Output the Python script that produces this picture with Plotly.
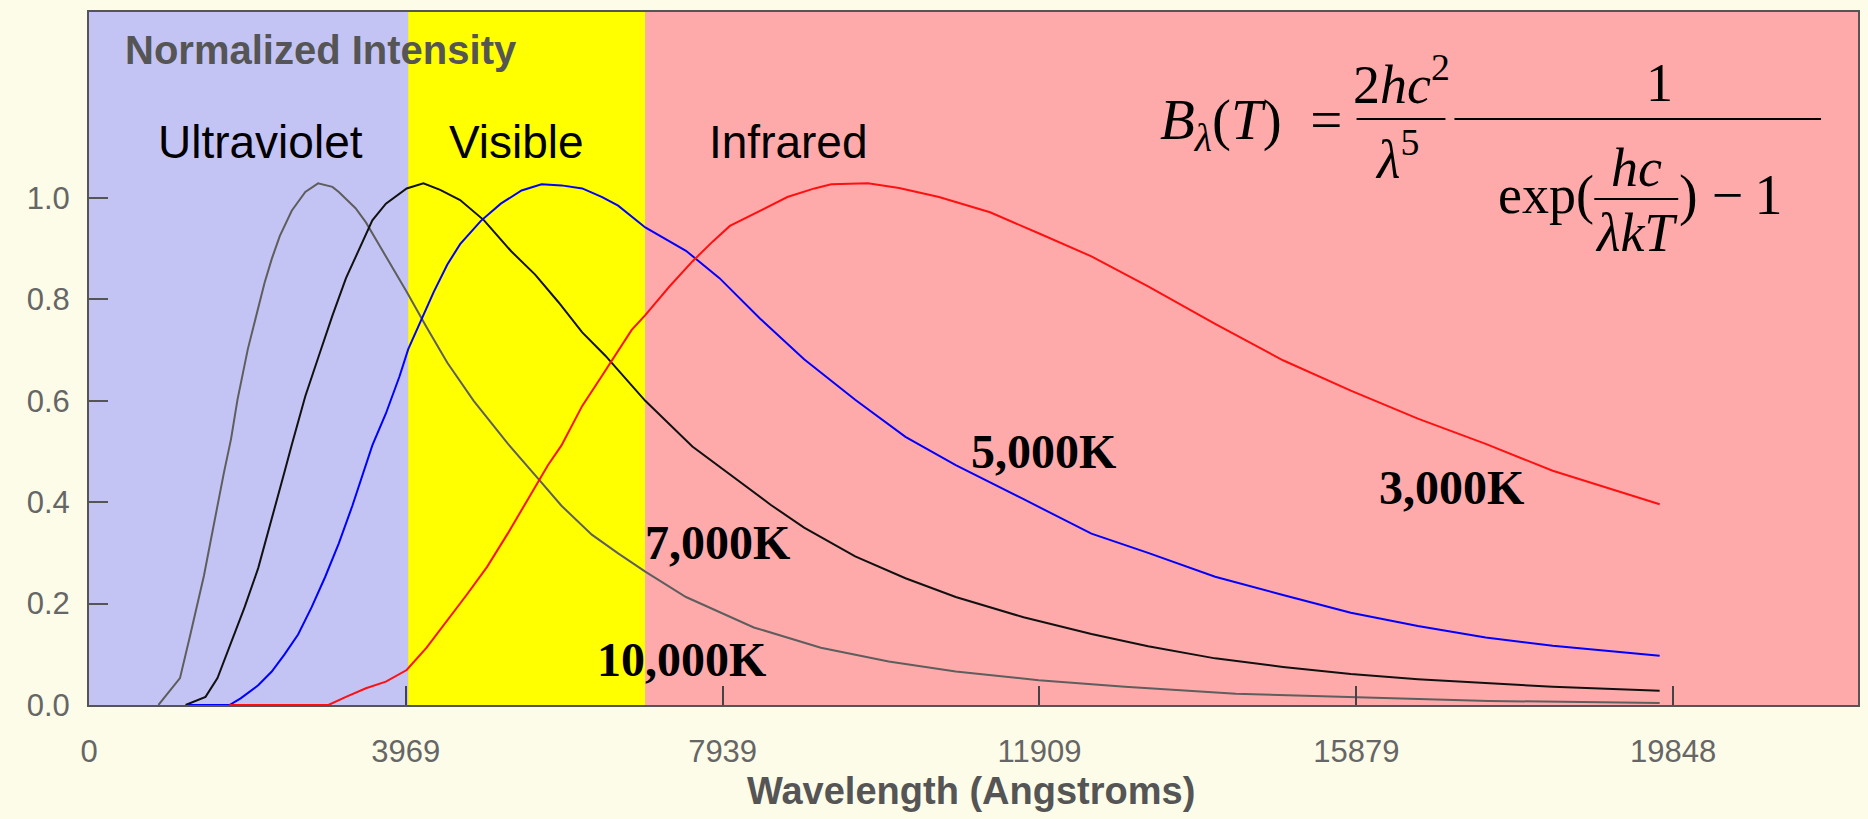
import plotly.graph_objects as go

# ---------------- data ----------------
wl_10000 = [870, 1140, 1270, 1350, 1440, 1520, 1610, 1690, 1780, 1860, 1990, 2120, 2200, 2290, 2390,
            2540, 2710, 2870, 3050, 3130, 3340, 3470, 3720, 3980, 4230, 4490, 4820, 5250, 5630, 5920,
            6300, 6630, 6970, 7480, 8330, 9170, 10020, 10860, 11900, 12980, 14370, 15810, 17540, 19680]
int_10000 = [0.0, 0.053, 0.139, 0.193, 0.255, 0.320, 0.395, 0.458, 0.525, 0.602, 0.702, 0.785, 0.833, 0.880, 0.925,
             0.975, 1.012, 1.029, 1.022, 1.012, 0.980, 0.952, 0.885, 0.815, 0.745, 0.675, 0.600, 0.515, 0.446, 0.393,
             0.336, 0.299, 0.263, 0.213, 0.153, 0.113, 0.086, 0.066, 0.049, 0.036, 0.022, 0.016, 0.008, 0.004]

wl_7000 = [1210, 1460, 1610, 1690, 1820, 1950, 2120, 2290, 2450, 2540, 2710, 2880, 3050, 3220, 3390, 3550,
           3720, 3980, 4190, 4400, 4650, 4950, 5290, 5590, 5880, 6180, 6470, 6630, 6970, 7560, 7900, 8540,
           8960, 9600, 10230, 10860, 11710, 12560, 13270, 14110, 14960, 15810, 16650, 17500, 18340, 19680]
int_7000 = [0.0, 0.016, 0.053, 0.086, 0.139, 0.193, 0.270, 0.366, 0.460, 0.513, 0.609, 0.689, 0.768, 0.842, 0.902, 0.956,
            0.989, 1.019, 1.029, 1.016, 0.996, 0.956, 0.895, 0.849, 0.795, 0.735, 0.689, 0.660, 0.600, 0.510, 0.470, 0.395,
            0.350, 0.293, 0.250, 0.213, 0.173, 0.140, 0.116, 0.092, 0.075, 0.061, 0.051, 0.043, 0.036, 0.028]

wl_5000 = [1250, 1760, 1900, 2120, 2290, 2450, 2620, 2790, 2960, 3130, 3300, 3470, 3550, 3720, 3890, 4000,
           4150, 4320, 4490, 4650, 4910, 5160, 5420, 5670, 5920, 6180, 6430, 6630, 6970, 7480, 7900, 8410,
           8960, 9600, 10230, 10860, 11710, 12560, 13270, 14110, 14960, 15810, 16650, 17500, 18340, 19190, 19680]
int_5000 = [0.0, 0.0, 0.013, 0.039, 0.066, 0.100, 0.139, 0.193, 0.253, 0.319, 0.393, 0.473, 0.512, 0.575, 0.648, 0.702,
            0.755, 0.815, 0.869, 0.909, 0.955, 0.989, 1.015, 1.027, 1.025, 1.019, 1.002, 0.985, 0.942, 0.896, 0.842, 0.762,
            0.682, 0.602, 0.529, 0.473, 0.406, 0.338, 0.300, 0.253, 0.217, 0.182, 0.156, 0.133, 0.117, 0.104, 0.097]

wl_3000 = [1760, 3000, 3220, 3470, 3720, 3980, 4230, 4490, 4740, 4990, 5250, 5500, 5750, 5920, 6180, 6430,
           6630, 6800, 6970, 7270, 7560, 7820, 8030, 8410, 8750, 9090, 9300, 9760, 10150, 10650, 11290, 11920,
           12560, 13270, 14110, 14960, 15810, 16650, 17500, 18340, 19190, 19680]
int_3000 = [0.0, 0.0, 0.016, 0.033, 0.046, 0.069, 0.113, 0.166, 0.219, 0.273, 0.339, 0.406, 0.473, 0.512, 0.590, 0.650,
            0.700, 0.740, 0.769, 0.825, 0.875, 0.915, 0.945, 0.975, 1.002, 1.019, 1.027, 1.029, 1.020, 1.002, 0.972, 0.929,
            0.885, 0.826, 0.752, 0.680, 0.620, 0.565, 0.515, 0.462, 0.421, 0.396]

series_names = ["10,000K", "7,000K", "5,000K", "3,000K"]
series_colors = ["#5e5e5e", "#111111", "#0000ff", "#ff1010"]

region_names = ["Ultraviolet", "Visible", "Infrared"]
region_edges = [0, 4000, 6970, 22165]
region_colors = ["#c4c4f4", "#ffff00", "#ffaaaa"]

x_tickvals = [0, 3969, 7939, 11909, 15879, 19848]
x_ticktext = ["0", "3969", "7939", "11909", "15879", "19848"]
y_tickvals = [0.0, 0.2, 0.4, 0.6, 0.8, 1.0]

# ---------------- figure ----------------
SANS = "Liberation Sans, Arial, Helvetica, sans-serif"
SERIF = "Liberation Serif, Times New Roman, serif"
GRAY = "#555555"

fig = go.Figure()
for wl, iv, name, col in zip([wl_10000, wl_7000, wl_5000, wl_3000],
                             [int_10000, int_7000, int_5000, int_3000],
                             series_names, series_colors):
    fig.add_trace(go.Scatter(x=wl, y=iv, mode="lines", name=name,
                             line=dict(color=col, width=2), hoverinfo="skip"))

shapes = []
for i in range(3):
    shapes.append(dict(type="rect", xref="x", yref="paper", x0=region_edges[i], x1=region_edges[i + 1],
                       y0=0, y1=1, fillcolor=region_colors[i], line=dict(width=0), layer="below"))

annotations = []
# region labels
for name, xc in zip(region_names, [2153, 5357, 8761]):
    annotations.append(dict(x=xc, y=1.110, xref="x", yref="y", text=name, showarrow=False,
                            xanchor="center", yanchor="middle",
                            font=dict(family=SANS, size=46, color="#000000")))
# temperature labels
for name, xc, yc in zip(series_names, [7420, 7870, 11960, 17070], [0.089, 0.320, 0.501, 0.430]):
    annotations.append(dict(x=xc, y=yc, xref="x", yref="y", text="<b>" + name + "</b>", showarrow=False,
                            xanchor="center", yanchor="middle",
                            font=dict(family=SERIF, size=48, color="#000000")))
# y axis title inside plot
annotations.append(dict(x=430, y=1.292, xref="x", yref="y", xanchor="left", yanchor="middle",
                        text="<b>Normalized Intensity</b>",
                        showarrow=False, font=dict(family=SANS, size=40, color=GRAY)))
# x axis title
annotations.append(dict(x=0.4986, y=-0.124, xref="paper", yref="paper", xanchor="center", yanchor="middle",
                        text="<b>Wavelength (Angstroms)</b>",
                        showarrow=False, font=dict(family=SANS, size=38, color=GRAY)))


def P(px, py):
    return (px - 89) / 1771.0, (705 - py) / 693.0


def ftext(px, py, text, size=54, xanchor="center"):
    xp, yp = P(px, py)
    annotations.append(dict(x=xp, y=yp, xref="paper", yref="paper", text=text, showarrow=False,
                            xanchor=xanchor, yanchor="middle",
                            font=dict(family=SERIF, size=size, color="#000000")))


def fline(px0, px1, py):
    x0, y0 = P(px0, py)
    x1, _ = P(px1, py)
    shapes.append(dict(type="line", xref="paper", yref="paper", x0=x0, x1=x1, y0=y0, y1=y0,
                       line=dict(color="#000000", width=2)))


ftext(1252, 124, "<i>B</i><sub><i>λ</i></sub>(<i>T</i>)  =", size=57)
ftext(1403, 81, "2<i>hc</i><sup>2</sup>")
fline(1358, 1447, 119)
ftext(1398, 155, "<i>λ</i><sup>5</sup>")
ftext(1661, 83, "1")
fline(1456, 1823, 119)
ftext(1598, 195, "exp(", xanchor="right")
ftext(1638, 168, "<i>hc</i>")
fline(1596, 1680, 199)
ftext(1638, 233, "<i>λkT</i>")
ftext(1679, 195, ") −\u20091", xanchor="left", size=56)

fig.update_layout(
    width=1868, height=819,
    margin=dict(l=89, r=8, t=12, b=114),
    paper_bgcolor="#fcfce8",
    plot_bgcolor="#ffaaaa",
    showlegend=False,
    shapes=shapes,
    annotations=annotations,
    xaxis=dict(range=[0, 22165], tickvals=x_tickvals, ticktext=x_ticktext, ticks="inside", ticklen=19,
               tickwidth=1.5, tickcolor="#444444", showline=True, linecolor=GRAY, linewidth=2, mirror=True,
               showgrid=False, zeroline=False, ticklabelstandoff=18,
               tickfont=dict(family=SANS, size=31, color="#666666")),
    yaxis=dict(range=[0, 1.367], tickvals=y_tickvals, tickformat=".1f", ticks="inside", ticklen=19,
               tickwidth=2, tickcolor=GRAY, showline=True, linecolor=GRAY, linewidth=2, mirror=True,
               showgrid=False, zeroline=False, ticklabelstandoff=11,
               tickfont=dict(family=SANS, size=31, color="#666666")),
)

fig.write_html("out.html")
